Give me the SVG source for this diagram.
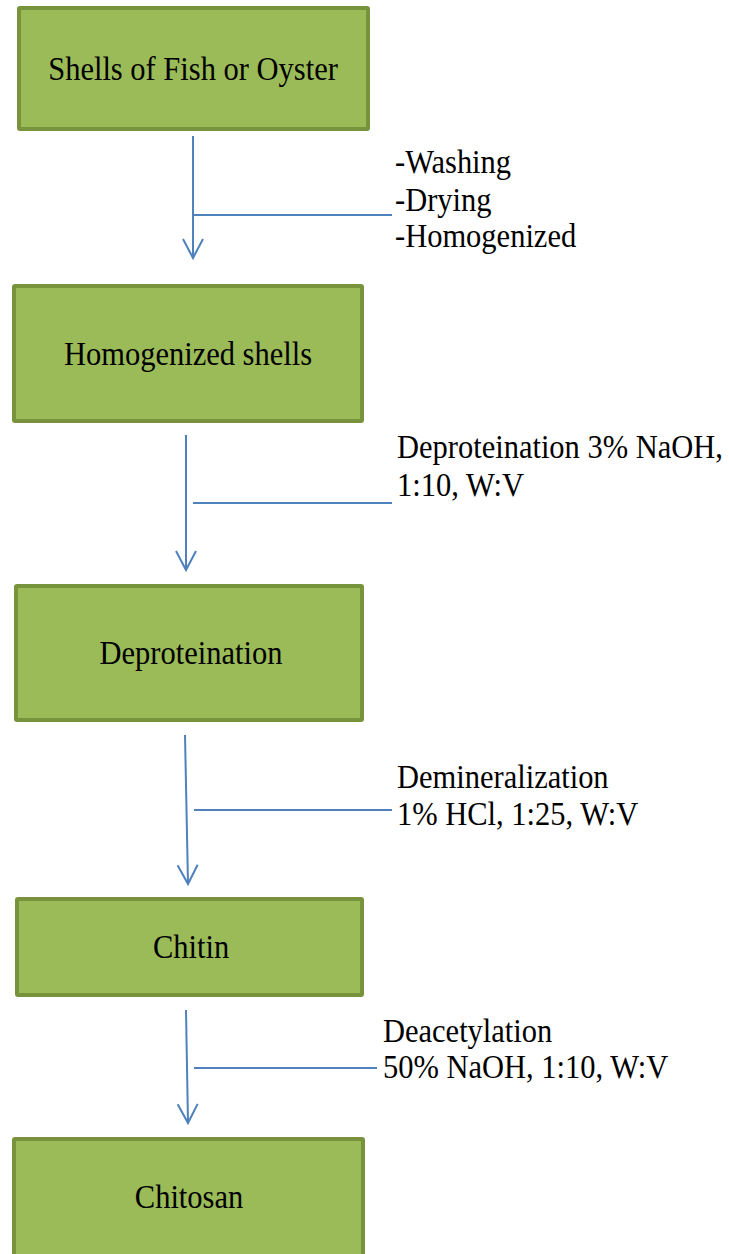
<svg xmlns="http://www.w3.org/2000/svg" width="729" height="1254" viewBox="0 0 729 1254">
  <style>
    .box { fill: #9BBB59; stroke: #77933C; stroke-width: 4; }
    .lbl { font-size: 30.5px; fill: #000; }
    .mid { text-anchor: middle; }
    .ln { stroke: #4F81BD; stroke-width: 2; fill: none; }
  </style>
  <defs>
    <marker id="arr" markerUnits="userSpaceOnUse" markerWidth="40" markerHeight="40" refX="0" refY="0" orient="auto" overflow="visible">
      <path d="M -19 -10 L 0 0 L -19 10" fill="none" stroke="#4F81BD" stroke-width="2"/>
    </marker>
  </defs>
  <rect width="729" height="1254" fill="#fff"/>

  <g font-family="Liberation Serif, DejaVu Serif, serif">
  <g id="n1">
    <rect class="box" x="19" y="8" width="349" height="121" rx="1"/>
    <text class="lbl mid" transform="translate(193,80) scale(1,1.1)">Shells of Fish or Oyster</text>
  </g>
  <g id="n2">
    <rect class="box" x="14" y="286" width="348" height="135" rx="1"/>
    <text class="lbl mid" transform="translate(188,365) scale(1,1.1)">Homogenized shells</text>
  </g>
  <g id="n3">
    <rect class="box" x="16" y="586" width="346" height="134" rx="1"/>
    <text class="lbl mid" transform="translate(191,664) scale(1,1.1)">Deproteination</text>
  </g>
  <g id="n4">
    <rect class="box" x="17" y="899" width="345" height="96" rx="1"/>
    <text class="lbl mid" transform="translate(191,958) scale(1,1.1)">Chitin</text>
  </g>
  <g id="n5">
    <rect class="box" x="14" y="1139" width="349" height="125" rx="1"/>
    <text class="lbl mid" transform="translate(189,1208) scale(1,1.1)">Chitosan</text>
  </g>

  <g id="connectors">
    <line class="ln" x1="193" y1="136" x2="193" y2="258" marker-end="url(#arr)"/>
    <line class="ln" x1="193" y1="215" x2="392" y2="215"/>
    <line class="ln" x1="186" y1="435" x2="186" y2="570" marker-end="url(#arr)"/>
    <line class="ln" x1="193" y1="503" x2="392" y2="503"/>
    <line class="ln" x1="185" y1="735" x2="188" y2="884" marker-end="url(#arr)"/>
    <line class="ln" x1="194" y1="810" x2="392" y2="810"/>
    <line class="ln" x1="186" y1="1010" x2="188" y2="1123" marker-end="url(#arr)"/>
    <line class="ln" x1="194" y1="1068" x2="377" y2="1068"/>
  </g>

  <g id="labels">
    <text class="lbl" transform="translate(395,173) scale(1,1.1)">-Washing</text>
    <text class="lbl" transform="translate(395,211) scale(1,1.1)">-Drying</text>
    <text class="lbl" transform="translate(395,247) scale(1,1.1)">-Homogenized</text>
    <text class="lbl" transform="translate(397,458) scale(1,1.1)">Deproteination 3% NaOH,</text>
    <text class="lbl" transform="translate(397,496) scale(1,1.1)">1:10, W:V</text>
    <text class="lbl" transform="translate(397,788) scale(1,1.1)">Demineralization</text>
    <text class="lbl" transform="translate(397,825) scale(1,1.1)">1% HCl, 1:25, W:V</text>
    <text class="lbl" transform="translate(383,1042) scale(1,1.1)">Deacetylation</text>
    <text class="lbl" transform="translate(383,1078) scale(1,1.1)">50% NaOH, 1:10, W:V</text>
  </g>
  </g>
</svg>
